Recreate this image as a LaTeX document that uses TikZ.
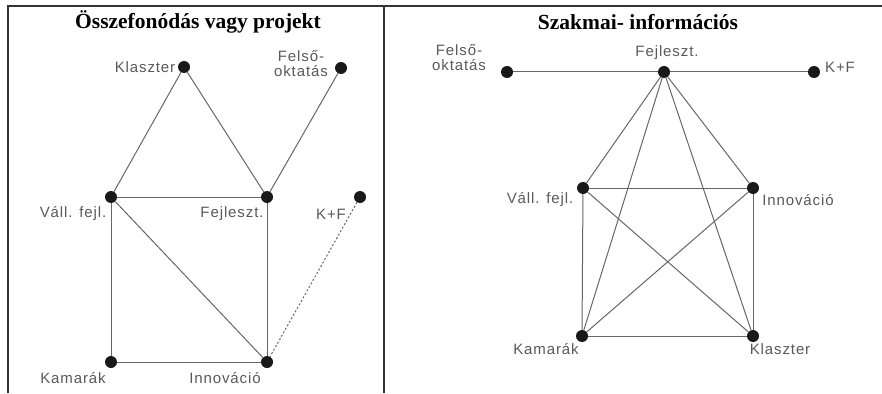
\documentclass[tikz,border=0pt]{standalone}
\usepackage{fontspec}
\setmainfont{Liberation Serif}
\newfontfamily\lblfont[LetterSpace=6]{Liberation Sans}
\usetikzlibrary{positioning}

\begin{document}
\begin{tikzpicture}[x=1pt, y=-1pt,
  vertex/.style={circle, fill=black!90, inner sep=0pt, minimum size=12pt},
  lbl/.style={font=\lblfont\fontsize{15}{15}\selectfont, text=black!65, inner sep=0pt, align=center},
  link/.style={draw=black!60, line width=1pt},
  weak/.style={link, dashed, dash pattern=on 2pt off 2pt},
  frame/.style={draw=black!80, line width=2pt},
  title/.style={font=\bfseries\fontsize{21.5}{21.5}\selectfont, inner sep=0pt}
]
\useasboundingbox (0,0) rectangle (882,393);
\draw[frame] (8,393) -- (8,6) -- (882,6);
\draw[frame] (384,6) -- (384,393);

\node[title] (cim1) at (198,22) {Összefonódás vagy projekt};
\node[title] (cim2) at (638,22) {Szakmai- információs};

% bal oldal
\node[vertex] (klaszter1) at (184,67) {};
\node[vertex] (felso1) at (341,68) {};
\node[vertex] (vall1) at (111,197) {};
\node[vertex] (fejl1) at (267,197) {};
\node[vertex] (kf1) at (360,197) {};
\node[vertex] (kamara1) at (111,362) {};
\node[vertex] (innov1) at (267,362) {};

\node[lbl] (tklaszter1) at (145,67) {Klaszter};
\node[lbl] (tfelso1) at (301,64) {Felső-\\oktatás};
\node[lbl] (tvall1) at (73,214) {Váll. fejl.};
\node[lbl] (tfejl1) at (232,214) {Fejleszt.};
\node[lbl] (tkf1) at (331,214) {K+F};
\node[lbl] (tkamara1) at (73,378) {Kamarák};
\node[lbl] (tinnov1) at (225,378) {Innováció};

\draw[link] (klaszter1) -- (vall1);
\draw[link] (klaszter1) -- (fejl1);
\draw[link] (felso1) -- (fejl1);
\draw[link] (vall1) -- (fejl1);
\draw[link] (vall1) -- (kamara1);
\draw[link] (vall1) -- (innov1);
\draw[link] (fejl1) -- (innov1);
\draw[link] (kamara1) -- (innov1);
\draw[weak] (kf1) -- (innov1);

% jobb oldal
\node[vertex] (felso2) at (507,72) {};
\node[vertex] (fejl2) at (664,72) {};
\node[vertex] (kf2) at (814,72) {};
\node[vertex] (vall2) at (583,188) {};
\node[vertex] (innov2) at (753,188) {};
\node[vertex] (kamara2) at (582,336) {};
\node[vertex] (klaszter2) at (753,336) {};

\node[lbl] (tfelso2) at (459,58) {Felső-\\oktatás};
\node[lbl] (tfejl2) at (667,53) {Fejleszt.};
\node[lbl] (tkf2) at (840,67) {K+F};
\node[lbl] (tvall2) at (540,200) {Váll. fejl.};
\node[lbl] (tinnov2) at (798,200) {Innováció};
\node[lbl] (tkamara2) at (546,349) {Kamarák};
\node[lbl] (tklaszter2) at (780,349) {Klaszter};

\draw[link] (felso2) -- (fejl2);
\draw[link] (fejl2) -- (kf2);
\draw[link] (fejl2) -- (vall2);
\draw[link] (fejl2) -- (innov2);
\draw[link] (fejl2) -- (kamara2);
\draw[link] (fejl2) -- (klaszter2);
\draw[link] (vall2) -- (innov2);
\draw[link] (vall2) -- (kamara2);
\draw[link] (vall2) -- (klaszter2);
\draw[link] (innov2) -- (kamara2);
\draw[link] (innov2) -- (klaszter2);
\draw[link] (kamara2) -- (klaszter2);
\end{tikzpicture}
\end{document}
